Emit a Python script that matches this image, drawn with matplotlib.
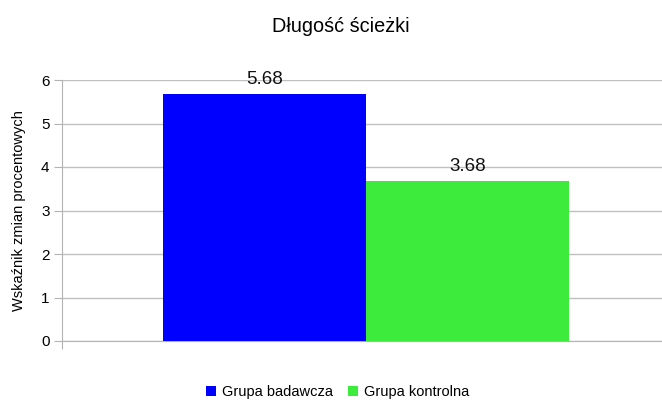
import matplotlib.pyplot as plt
import numpy as np

plt.rcParams['font.family'] = ['Liberation Sans', 'DejaVu Sans']

title = 'Długość ścieżki'
ylabel = 'Wskaźnik zmian procentowych'
groups = ['Grupa badawcza', 'Grupa kontrolna']
values = [5.68, 3.68]
colors = ['#0000ff', '#3deb3d']

fig = plt.figure(figsize=(6.62, 4.0), dpi=100)
ax = fig.add_axes([62 / 662, 1 - 341 / 400, 600 / 662, 261 / 400])

width = 0.338
offsets = [-width / 2, width / 2]
for g, v, c, off in zip(groups, values, colors, offsets):
    ax.bar(off + 0.007, v, width=width, color=c, label=g, zorder=3)
    ax.text(off + 0.007, v + 0.14, '%.2f' % v, ha='center', va='bottom',
            fontsize=13.5, color='#111111', zorder=4)

ax.set_xlim(-0.5, 0.5)
ax.set_ylim(0, 6)
ax.set_yticks(np.arange(0, 7, 1))
ax.set_xticks([-0.5])
ax.set_xticklabels([''])
ax.yaxis.grid(True, color='#c0c0c0', linewidth=1, zorder=0)
for s in ['top', 'right']:
    ax.spines[s].set_visible(False)
ax.spines['left'].set_color('#b3b3b3')
ax.spines['bottom'].set_color('#b3b3b3')
ax.tick_params(axis='both', length=6, color='#b3b3b3', labelsize=11, pad=3)
ax.set_ylabel(ylabel, fontsize=10.5, labelpad=11)

fig.text(341 / 662, 1 - 27 / 400, title, ha='center', va='center', fontsize=14.3)
fig.legend(loc='center', bbox_to_anchor=(0.51, 1 - 392 / 400), ncol=2,
           frameon=False, fontsize=10.5, handlelength=0.7, handleheight=0.7,
           handletextpad=0.4, columnspacing=1.0)

fig.savefig('out.png', dpi=100)
